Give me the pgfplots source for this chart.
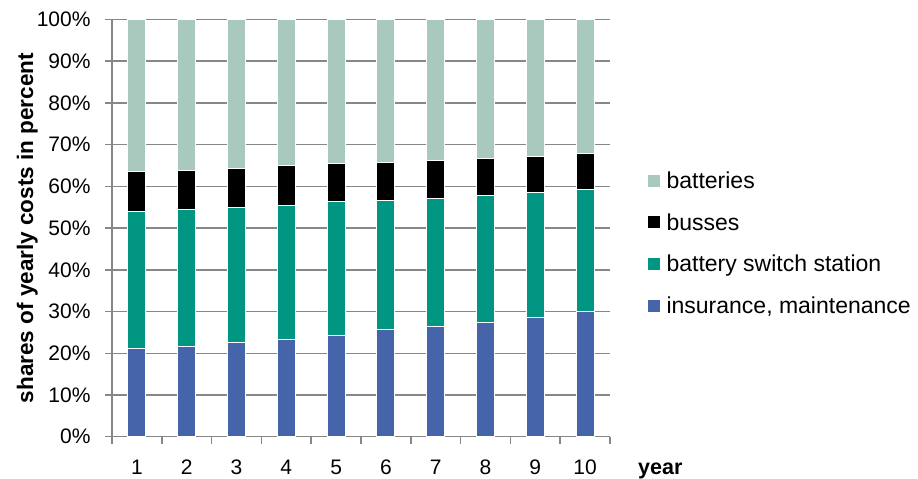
\documentclass[border=0pt]{standalone}
\usepackage{fontspec}
\setmainfont{Liberation Sans}
\usepackage{pgfplots}
\pgfplotsset{compat=1.18}
\definecolor{batt}{HTML}{A9C8BE}
\definecolor{station}{HTML}{009681}
\definecolor{insur}{HTML}{4664AA}
\definecolor{gridgray}{HTML}{878787}
\begin{document}
\begin{tikzpicture}
\useasboundingbox (0,0) rectangle (918pt,-479pt);
\begin{axis}[
  at={(112pt,-436.7pt)}, anchor=south west,
  scale only axis, width=498pt, height=417.2pt,
  ybar stacked, bar width=18pt,
  xmin=0.5, xmax=10.5, ymin=0, ymax=100,
  axis x line*=bottom, axis y line*=left,
  axis line style={draw=gridgray, line width=1.5pt, -},
  xtick={1,...,10},
  minor xtick={0.5,1.5,...,10.5},
  ytick={0,10,...,100},
  yticklabel={\pgfmathprintnumber{\tick}\%},
  tick align=outside,
  major tick length=7pt, minor tick length=7pt,
  major x tick style={draw=none},
  minor x tick style={draw=gridgray, line width=1.5pt},
  major y tick style={draw=gridgray, line width=1.5pt},
  ymajorgrids, grid style={draw=gridgray, line width=1.5pt},
  tick label style={font=\fontsize{21}{25}\selectfont},
  /pgf/number format/assume math mode=true,
  xticklabel style={yshift=-13pt},
  yticklabel style={xshift=-11pt},
  ylabel={\textbf{shares of yearly costs in percent}},
  ylabel style={font=\fontsize{22.5}{26}\selectfont, at={(axis description cs:-0.1486,0.5)},
    anchor=south, inner sep=0pt},
  xlabel={\textbf{year}},
  xlabel style={font=\fontsize{21.5}{26}\selectfont, at={(axis description cs:1,0)},
    anchor=base west, inner sep=0pt, xshift=28pt, yshift=-38pt},
  legend style={at={(1.075,0.638)}, anchor=north west, draw=none, fill=none,
    font=\fontsize{23}{27}\selectfont, row sep=21.5pt, column sep=6pt, inner sep=0pt,
    nodes={inner sep=1pt}},
  legend cell align=left,
  reverse legend,
  legend image code/.code={\path[#1,draw=none] (0pt,-6pt) rectangle (12pt,6pt);},
  every axis plot/.append style={draw=white, line width=1pt},
]
\addplot[fill=insur] coordinates {(1,21.2) (2,21.6) (3,22.5) (4,23.4) (5,24.2) (6,25.6) (7,26.4) (8,27.3) (9,28.5) (10,30.0)};
\addlegendentry{insurance, maintenance}
\addplot[fill=station] coordinates {(1,32.7) (2,32.9) (3,32.4) (4,32.0) (5,32.1) (6,31.1) (7,30.7) (8,30.6) (9,30.0) (10,29.3)};
\addlegendentry{battery switch station}
\addplot[fill=black] coordinates {(1,9.6) (2,9.4) (3,9.4) (4,9.5) (5,9.1) (6,9.1) (7,9.1) (8,8.7) (9,8.6) (10,8.6)};
\addlegendentry{busses}
\addplot[fill=batt] coordinates {(1,36.5) (2,36.1) (3,35.7) (4,35.1) (5,34.6) (6,34.2) (7,33.8) (8,33.4) (9,32.9) (10,32.1)};
\addlegendentry{batteries}
\end{axis}
\end{tikzpicture}
\end{document}
